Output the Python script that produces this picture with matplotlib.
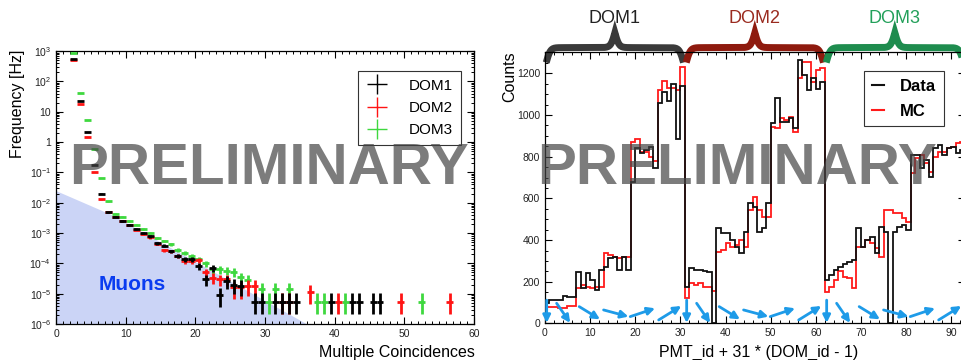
import numpy as np
import matplotlib
matplotlib.use('Agg')
import matplotlib.pyplot as plt
import matplotlib.transforms as mtransforms
from matplotlib.ticker import MultipleLocator, LogLocator, FuncFormatter, NullFormatter

plt.rcParams['font.family'] = ['Liberation Sans', 'DejaVu Sans']
plt.rcParams['mathtext.fontset'] = 'custom'
plt.rcParams['mathtext.rm'] = 'Liberation Sans'
plt.rcParams['mathtext.it'] = 'Liberation Sans:italic'
plt.rcParams['mathtext.bf'] = 'Liberation Sans:bold'

# ---- left panel: multiplicity rates per DOM (bin centres, Hz)
dom1_x = [2.5, 3.5, 4.5, 5.5, 6.5, 7.5, 8.5, 9.5, 10.5, 11.5, 12.5, 13.5, 14.5, 15.5,
          16.5, 17.5, 18.5, 19.5, 20.5, 21.5, 22.5, 23.5, 24.5, 25.5, 26.5, 28.5, 29.5,
          31.5, 32.5, 33.5, 34.5, 39.5, 42.5, 43.5, 45.5, 46.5]
dom1_y = [540, 22, 2.2, 0.17, 0.02, 4.8e-3, 3.5e-3, 2.5e-3, 1.9e-3, 1.35e-3, 1.0e-3, 7.7e-4,
          4.6e-4, 3.8e-4, 2.5e-4, 1.8e-4, 1.35e-4, 1.35e-4, 8.1e-5, 3.0e-5, 7.2e-5, 9e-6,
          2.6e-5, 2.0e-5, 1.8e-5, 5.3e-6, 5.3e-6, 5.3e-6, 5.3e-6, 5.3e-6, 5.3e-6, 5.3e-6,
          5.3e-6, 5.3e-6, 5.3e-6, 5.3e-6]

dom2_x = [2.5, 3.5, 4.5, 5.5, 6.5, 7.5, 8.5, 9.5, 10.5, 11.5, 12.5, 13.5, 14.5, 15.5,
          16.5, 17.5, 18.5, 19.5, 20.5, 21.5, 22.5, 23.5, 24.5, 25.5, 26.5, 27.5, 28.5,
          32.5, 33.5, 36.5, 40.5, 49.5, 56.5]
dom2_y = [500, 18, 1.5, 0.105, 0.013, 5e-3, 3.4e-3, 2.5e-3, 1.85e-3, 1.3e-3, 9.5e-4, 7.2e-4,
          4.5e-4, 2.7e-4, 2.5e-4, 1.8e-4, 1.2e-4, 1.2e-4, 1.25e-4, 5e-5, 3.4e-5, 3e-5,
          3e-5, 1.6e-5, 1.6e-5, 1.8e-5, 1.8e-5, 5.3e-6, 5.3e-6, 1.1e-5, 5.3e-6, 5.3e-6, 5.3e-6]

dom3_x = [2.5, 3.5, 4.5, 5.5, 6.5, 7.5, 8.5, 9.5, 10.5, 11.5, 12.5, 13.5, 14.5, 15.5,
          16.5, 17.5, 18.5, 19.5, 20.5, 21.5, 22.5, 23.5, 24.5, 25.5, 26.5, 27.5, 29.5,
          30.5, 31.5, 33.5, 37.5, 38.5, 41.5, 52.5]
dom3_y = [840, 43, 5.2, 0.59, 0.065, 0.011, 4.3e-3, 3.5e-3, 2.5e-3, 1.9e-3, 1.35e-3, 1.0e-3,
          7e-4, 5.5e-4, 4.2e-4, 2.8e-4, 2.2e-4, 1.7e-4, 1.35e-4, 1.0e-4, 6.3e-5, 6.3e-5,
          5.8e-5, 5.3e-5, 3.5e-5, 2.8e-5, 1.4e-5, 5.3e-6, 1.4e-5, 1.4e-5, 5.3e-6, 5.3e-6,
          5.3e-6, 5.3e-6]

one_count = 5.3e-6   # rate of a single entry
muon_x = [0, 8, 36]
muon_y = [2.5e-2, 4e-3, 1e-6]

# ---- right panel: counts per PMT (bins 0..92)
data_counts = [96, 112, 112, 115, 131, 128, 128, 248, 168, 243, 211, 160, 256, 272, 312, 320,
               259, 320, 256, 680, 840, 816, 830, 845, 744, 1060, 1112, 1066, 1150, 883, 1140,
               176, 264, 256, 256, 253, 248, 0, 456, 432, 432, 400, 368, 336, 440, 576, 560,
               440, 456, 576, 960, 1080, 968, 968, 984, 936, 1264, 1190, 1120, 1180, 1125, 1160,
               208, 232, 256, 272, 285, 296, 304, 456, 368, 400, 416, 336, 464, 440, 0, 440,
               464, 472, 448, 808, 808, 744, 784, 704, 840, 856, 808, 840, 848, 816, 830]
mc_counts = [80, 80, 80, 72, 72, 84, 84, 169, 187, 175, 169, 173, 175, 340, 330, 320,
             312, 320, 320, 870, 885, 825, 825, 800, 780, 1120, 1165, 1130, 1130, 1120, 1228,
             120, 192, 184, 192, 176, 176, 156, 344, 352, 384, 368, 376, 400, 368, 544, 608,
             544, 512, 512, 944, 936, 984, 976, 992, 920, 1176, 1256, 1256, 1160, 1216, 1224,
             152, 177, 209, 253, 225, 217, 169, 368, 368, 400, 384, 360, 320, 544, 544, 528,
             528, 504, 488, 720, 792, 808, 768, 728, 800, 824, 824, 840, 848, 864, 872]
dom_names = ['DOM1', 'DOM2', 'DOM3']
# PMT orientation arrows inside one DOM: (x0, y0, x1, y1)
pmt_arrows = [(0.4, 112, 0.4, 3), (2.6, 97, 5.6, 3), (7.6, 81, 12.2, 20),
              (13.0, 65, 18.5, 33), (18.9, 33, 24.4, 73), (25.2, 17, 30.2, 84)]


def poisson_err(y):
    y = np.array(y)
    rel = 1 / np.sqrt(y / one_count)
    return [y * np.minimum(rel, 0.6), y * rel]


def root_ticks(ax):
    ax.tick_params(which='both', direction='in', top=True, right=True,
                   labelsize=7.5, labelcolor='#222222')
    ax.tick_params(which='major', length=5, width=0.8)
    ax.tick_params(which='minor', length=2.5, width=0.7)
    for s in ax.spines.values():
        s.set_linewidth(0.9)


def brace(ax, x0, x1, color, base=0.963, h=0.11, beta=2.2):
    trans = mtransforms.blended_transform_factory(ax.transData, ax.transAxes)
    xs = np.linspace(x0, x1, 401)
    xh = xs[:201]
    yh = 1 / (1 + np.exp(-beta * (xh - xh[0]))) + 1 / (1 + np.exp(-beta * (xh - xh[-1])))
    yy = np.concatenate((yh, yh[-2::-1]))
    ax.plot(xs, base + (yy - 0.5) * h, color=color, lw=5, transform=trans,
            clip_on=False, solid_capstyle='butt', solid_joinstyle='miter')


fig = plt.figure(figsize=(9.61, 3.6), dpi=100)

# ================= left panel
ax1 = fig.add_axes([0.0583, 0.1, 0.435, 0.758])
ax1.fill_between(muon_x, 1e-7, muon_y, color='#cbd4f6', lw=0, zorder=1)
dom_cols = {'DOM1': '#000000', 'DOM2': '#ff1414', 'DOM3': '#3fd83f'}
for name, xs, ys in [('DOM3', dom3_x, dom3_y), ('DOM2', dom2_x, dom2_y),
                     ('DOM1', dom1_x, dom1_y)]:
    ax1.errorbar(xs, ys, xerr=0.5, yerr=poisson_err(ys), fmt='none',
                 ecolor=dom_cols[name], elinewidth=2, capsize=0, zorder=3)
ax1.text(10.9, 2.0e-5, 'Muons', color='#0a3cf0', fontsize=15, fontweight='bold',
         ha='center', va='center', zorder=2)
ax1.set_yscale('log')
ax1.set_xlim(0, 60)
ax1.set_ylim(1e-6, 1e3)
ax1.xaxis.set_major_locator(MultipleLocator(10))
ax1.xaxis.set_minor_locator(MultipleLocator(1))
ax1.yaxis.set_major_locator(LogLocator(base=10, numticks=20))
ax1.yaxis.set_minor_locator(LogLocator(base=10, subs=np.arange(2, 10), numticks=20))
ax1.yaxis.set_minor_formatter(NullFormatter())


def log_fmt(v, pos):
    e = int(round(np.log10(v)))
    if e == 0:
        return '1'
    if e == 1:
        return '10'
    return r'$10^{%d}$' % e


ax1.yaxis.set_major_formatter(FuncFormatter(log_fmt))
root_ticks(ax1)
leg_handles = [plt.Line2D([], [], color=dom_cols[n], marker='+', ms=14, mew=1.0, ls='none')
               for n in dom_names]
leg1 = ax1.legend(leg_handles, dom_names, loc='upper left',
                  bbox_to_anchor=(0.705, 0.955), fontsize=11, frameon=True, fancybox=False,
                  edgecolor='#333333', framealpha=1, handlelength=1.5, handletextpad=1.3,
                  borderpad=0.5, labelspacing=0.55)
leg1.get_frame().set_linewidth(0.8)
fig.text(0.018, 0.862, 'Frequency [Hz]', rotation=90, ha='center', va='top', fontsize=11.5)
fig.text(0.494, 0.022, 'Multiple Coincidences', ha='right', va='center', fontsize=11.5)

# ================= right panel
ax2 = fig.add_axes([0.567, 0.1014, 0.437, 0.7528])
edges = np.arange(len(data_counts) + 1)
ax2.stairs(mc_counts, edges, color='#ff1a1a', lw=1.3, zorder=2)
ax2.stairs(data_counts, edges, color='#111111', lw=1.3, zorder=3)
ax2.set_xlim(0, 93)
ax2.set_ylim(0, 1300)
ax2.xaxis.set_major_locator(MultipleLocator(10))
ax2.xaxis.set_minor_locator(MultipleLocator(2))
ax2.yaxis.set_major_locator(MultipleLocator(200))
ax2.yaxis.set_minor_locator(MultipleLocator(50))
root_ticks(ax2)

for d in range(3):
    off = 31 * d
    for x0, y0, x1, y1 in pmt_arrows:
        ax2.annotate('', xy=(x1 + off, y1), xytext=(x0 + off, y0),
                     arrowprops=dict(arrowstyle='-|>', color='#1e9be8', lw=2,
                                     mutation_scale=11, shrinkA=0, shrinkB=0),
                     zorder=4)

brace_cols = ['#3a3a3a', '#8e1a0e', '#1e8c4e']
label_cols = ['#222222', '#9a2b1f', '#23a05a']
trans2 = mtransforms.blended_transform_factory(ax2.transData, ax2.transAxes)
for d, name in enumerate(dom_names):
    brace(ax2, 31 * d + 0.3, 31 * (d + 1) - 0.3, brace_cols[d])
    ax2.text(31 * d + 15.5, 1.125, name, color=label_cols[d], fontsize=13, ha='center',
             va='center', transform=trans2)

h_data = plt.Line2D([], [], color='#111111', lw=1.5)
h_mc = plt.Line2D([], [], color='#ff1a1a', lw=1.5)
leg2 = ax2.legend([h_data, h_mc], ['Data', 'MC'], loc='upper right',
                  bbox_to_anchor=(0.97, 0.962), prop={'weight': 'bold', 'size': 12},
                  frameon=True, fancybox=False, edgecolor='#333333', framealpha=1,
                  handlelength=0.7, handletextpad=1.0, borderpad=0.45, labelspacing=0.6)
leg2.get_frame().set_linewidth(0.8)
fig.text(0.53, 0.858, 'Counts', rotation=90, ha='center', va='top', fontsize=11.5)
fig.text(0.893, 0.022, 'PMT_id + 31 * (DOM_id - 1)', ha='right', va='center', fontsize=11.5)

# watermarks
for xc in (0.28, 0.767):
    fig.text(xc, 0.53, 'PRELIMINARY', fontsize=42, fontweight='bold', color='#444444',
             alpha=0.7, ha='center', va='center', zorder=10)

fig.savefig('out.png', dpi=100)
